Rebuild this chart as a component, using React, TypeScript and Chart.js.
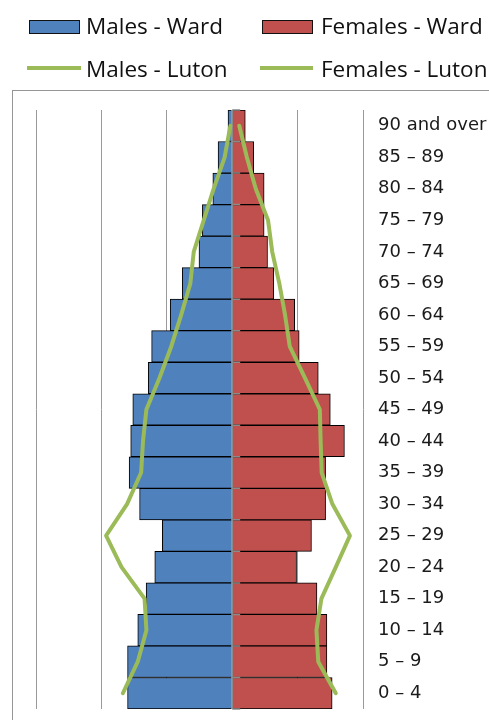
import React, { useEffect, useRef } from "react";
import { Chart, registerables } from "chart.js";

Chart.register(...registerables);

const ageGroups = [
  "0 – 4", "5 – 9", "10 – 14", "15 – 19", "20 – 24", "25 – 29", "30 – 34",
  "35 – 39", "40 – 44", "45 – 49", "50 – 54", "55 – 59", "60 – 64", "65 – 69",
  "70 – 74", "75 – 79", "80 – 84", "85 – 89", "90 and over",
];
// share of population (%), males shown as negative values
const malesWard = [-4.0, -4.0, -3.61, -3.29, -2.96, -2.67, -3.54, -3.94, -3.88, -3.8, -3.21, -3.08, -2.37, -1.91, -1.27, -1.14, -0.74, -0.54, -0.16];
const femalesWard = [3.82, 3.62, 3.62, 3.24, 2.46, 3.03, 3.57, 3.57, 4.29, 3.75, 3.29, 2.56, 2.39, 1.59, 1.35, 1.22, 1.22, 0.82, 0.5];
const malesLuton = [-4.18, -3.61, -3.28, -3.35, -4.23, -4.82, -4.02, -3.48, -3.41, -3.28, -2.78, -2.33, -1.95, -1.6, -1.47, -1.09, -0.71, -0.29, -0.07];
const femalesLuton = [3.96, 3.29, 3.22, 3.41, 3.96, 4.5, 3.83, 3.42, 3.38, 3.35, 2.78, 2.2, 2.02, 1.8, 1.53, 1.37, 0.9, 0.56, 0.27];
const axisMin = -7.5;
const axisMax = 5;
const axisStep = 2.5;

const BLUE = "#4F81BD";
const RED = "#C0504D";
const GREEN = "#9BBB59";
const GRID = "#9a9a9a";

const axisOverlay = {
  id: "axisOverlay",
  afterDatasetDraw(chart: any, args: any) {
    if (args.index !== 1) return;
    const ctx = chart.ctx;
    const x0 = chart.scales.x.getPixelForValue(0);
    const { top, bottom } = chart.chartArea;
    const n = chart.data.labels.length;
    ctx.save();
    ctx.strokeStyle = "#8a8a8a";
    ctx.lineWidth = 1.5;
    ctx.beginPath();
    ctx.moveTo(x0, top);
    ctx.lineTo(x0, bottom);
    for (let k = 0; k <= n; k++) {
      const y = top + ((bottom - top) * k) / n;
      ctx.moveTo(x0, y);
      ctx.lineTo(x0 + 8, y);
    }
    ctx.stroke();
    ctx.restore();
  },
};

const legendFont = "'Open Sans', sans-serif";

export default function App() {
  const ref = useRef<HTMLCanvasElement | null>(null);

  useEffect(() => {
    if (!ref.current) return;
    const chart = new Chart(ref.current, {
      type: "bar",
      data: {
        labels: ageGroups,
        datasets: [
          {
            type: "bar",
            label: "Males - Ward",
            data: malesWard,
            backgroundColor: BLUE,
            borderColor: "#000000",
            borderWidth: 1,
            grouped: false,
            barPercentage: 1,
            categoryPercentage: 1,
            order: 3,
          } as any,
          {
            type: "bar",
            label: "Females - Ward",
            data: femalesWard,
            backgroundColor: RED,
            borderColor: "#000000",
            borderWidth: 1,
            grouped: false,
            barPercentage: 1,
            categoryPercentage: 1,
            order: 2,
          } as any,
          {
            type: "line",
            label: "Males - Luton",
            data: malesLuton,
            borderColor: GREEN,
            backgroundColor: GREEN,
            borderWidth: 4,
            pointRadius: 0,
            tension: 0,
            borderCapStyle: "round",
            borderJoinStyle: "round",
            fill: false,
            order: 1,
          } as any,
          {
            type: "line",
            label: "Females - Luton",
            data: femalesLuton,
            borderColor: GREEN,
            backgroundColor: GREEN,
            borderWidth: 4,
            pointRadius: 0,
            tension: 0,
            borderCapStyle: "round",
            borderJoinStyle: "round",
            fill: false,
            order: 0,
          } as any,
        ],
      },
      options: {
        indexAxis: "y",
        responsive: false,
        animation: false,
        devicePixelRatio: 1,
        layout: { padding: { top: 110, bottom: 11, left: 36, right: 0 } },
        plugins: {
          legend: { display: false },
          tooltip: { enabled: false },
        },
        scales: {
          x: {
            type: "linear",
            min: axisMin,
            max: axisMax,
            ticks: { stepSize: axisStep, display: false },
            grid: { display: true, color: GRID, lineWidth: 1, drawTicks: false },
            border: { display: false },
            afterFit: (scale: any) => {
              scale.height = 0;
              scale.paddingLeft = 0;
              scale.paddingRight = 0;
            },
          },
          y: {
            type: "category",
            position: "right",
            reverse: true,
            offset: true,
            grid: { display: false, drawTicks: false },
            border: { display: false },
            ticks: {
              padding: 15,
              color: "#1a1a1a",
              font: { family: "'DejaVu Sans', sans-serif", size: 18 },
              autoSkip: false,
            },
            afterFit: (scale: any) => {
              scale.width = 126;
              scale.paddingTop = 0;
              scale.paddingBottom = 0;
            },
          },
        },
      } as any,
      plugins: [axisOverlay],
    });
    return () => chart.destroy();
  }, []);

  const text = (content: string, left: number, top: number) => (
    <span
      style={{
        position: "absolute",
        left,
        top,
        fontFamily: legendFont,
        fontSize: 22.5,
        lineHeight: "22.5px",
        color: "#111",
        whiteSpace: "nowrap",
      }}
    >
      {content}
    </span>
  );

  return (
    <div
      style={{
        position: "absolute",
        left: 0,
        top: 0,
        width: 489,
        height: 720,
        overflow: "hidden",
        background: "#ffffff",
      }}
    >
      <div
        style={{
          position: "absolute",
          left: 12,
          top: 90,
          width: 520,
          height: 700,
          borderLeft: "1px solid #969696",
          borderTop: "1px solid #969696",
        }}
      />
      <canvas
        ref={ref}
        width={489}
        height={720}
        style={{ position: "absolute", left: 0, top: 0, width: 489, height: 720 }}
      />
      <div style={{ position: "absolute", left: 29, top: 20, width: 51, height: 14, boxSizing: "border-box", background: BLUE, border: "1.5px solid #111" }} />
      {text("Males - Ward", 86, 14.5)}
      <div style={{ position: "absolute", left: 262, top: 20, width: 51, height: 14, boxSizing: "border-box", background: RED, border: "1.5px solid #111" }} />
      {text("Females - Ward", 321, 14.5)}
      <div style={{ position: "absolute", left: 27, top: 66, width: 54, height: 4, background: GREEN }} />
      {text("Males - Luton", 86, 57.5)}
      <div style={{ position: "absolute", left: 260, top: 66, width: 53, height: 4, background: GREEN }} />
      {text("Females - Luton", 321, 57.5)}
    </div>
  );
}
